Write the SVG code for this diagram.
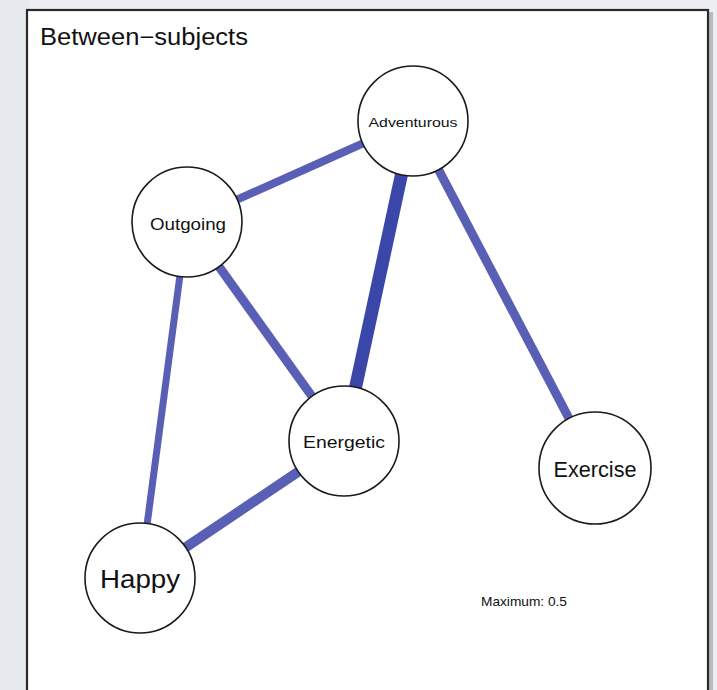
<svg xmlns="http://www.w3.org/2000/svg" width="717" height="690" viewBox="0 0 717 690">
<style>
.node circle{fill:#fff;stroke:#1a1a1a;stroke-width:1.6}
.node text{font-family:"Liberation Sans",Arial,sans-serif;fill:#111;text-anchor:middle;dominant-baseline:central}
.edge{stroke:#5a5fb6;stroke-linecap:butt}
.lbl{font-family:"Liberation Sans",Arial,sans-serif;fill:#111}
</style>
<rect x="0" y="0" width="717" height="690" fill="#eceef2"/>
<rect x="0" y="0" width="30" height="690" fill="#e6e9ee"/>
<rect x="29" y="12" width="684" height="690" fill="#9a9a9a" opacity="0.6"/>
<rect x="27" y="10" width="681" height="690" fill="#fff" stroke="#2a2a2a" stroke-width="2.2"/>
<text class="lbl" x="40" y="45" font-size="23" textLength="208" lengthAdjust="spacingAndGlyphs">Between−subjects</text>
<g id="connectors">
<line class="edge" x1="187" y1="222" x2="413" y2="121" stroke-width="8"/>
<line class="edge" x1="413" y1="121" x2="344" y2="441" stroke-width="13" style="stroke:#3b47a8"/>
<line class="edge" x1="413" y1="121" x2="595" y2="468" stroke-width="9"/>
<line class="edge" x1="187" y1="222" x2="344" y2="441" stroke-width="9"/>
<line class="edge" x1="187" y1="222" x2="140" y2="578" stroke-width="7"/>
<line class="edge" x1="344" y1="441" x2="140" y2="578" stroke-width="10"/>
</g>
<g id="Adventurous" class="node"><circle cx="413" cy="121" r="55"/><text x="413" y="122" font-size="13" textLength="89" lengthAdjust="spacingAndGlyphs">Adventurous</text></g>
<g id="Outgoing" class="node"><circle cx="187" cy="222" r="55"/><text x="188" y="224" font-size="16" textLength="76" lengthAdjust="spacingAndGlyphs">Outgoing</text></g>
<g id="Energetic" class="node"><circle cx="344" cy="441" r="55"/><text x="344" y="442" font-size="17" textLength="82" lengthAdjust="spacingAndGlyphs">Energetic</text></g>
<g id="Exercise" class="node"><circle cx="595" cy="468" r="56"/><text x="595" y="469" font-size="22" textLength="83" lengthAdjust="spacingAndGlyphs">Exercise</text></g>
<g id="Happy" class="node"><circle cx="140" cy="578" r="55"/><text x="140" y="579" font-size="26" textLength="80" lengthAdjust="spacingAndGlyphs">Happy</text></g>
<text class="lbl" x="481" y="606" font-size="13.5" textLength="86" lengthAdjust="spacingAndGlyphs">Maximum: 0.5</text>
</svg>
